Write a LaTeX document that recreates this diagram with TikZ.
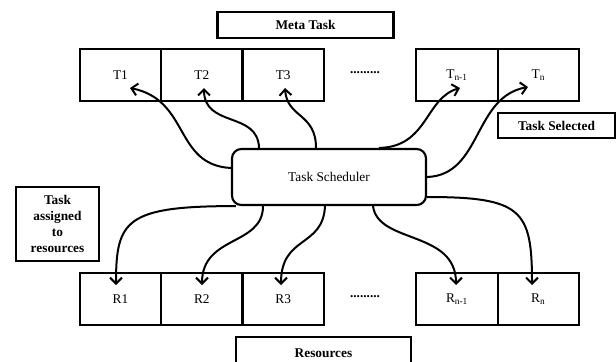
\documentclass[tikz,border=0pt]{standalone}
\usepackage{fontspec}
\setmainfont{Liberation Serif}
\usetikzlibrary{positioning,calc,arrows.meta}

\tikzset{
  cell/.style={draw,line width=1.6pt,minimum width=61pt,minimum height=39pt,inner sep=0pt,outer sep=0pt,font=\normalsize},
  tag/.style={draw,line width=1.6pt,inner sep=0pt,font=\normalsize\bfseries,align=center},
  conn/.style={line width=1.5pt,-{Straight Barb[length=4.5pt,width=9pt]}}
}

\begin{document}
\begin{tikzpicture}[x=0.75pt,y=-0.75pt]
		\useasboundingbox (0,0) rectangle (616,361);
		\node[tag,minimum width=132pt,minimum height=19.5pt] (meta) at (305.5,25) {Meta Task};
		\node[cell] (T1) at (120.5,75) {T1};
		\node[cell,right=0pt of T1] (T2) {T2};
		\node[cell,right=0pt of T2] (T3) {T3};
		\node[cell] (T4) at (457,75) {T\textsubscript{n-1}};
		\node[cell,right=0pt of T4] (T5) {T\textsubscript{n}};
		\node[font=\normalsize\bfseries] (tdots) at (365,73) {.........};
		\node[tag,minimum width=88pt,minimum height=19pt] (sel) at (556.5,125.5) {Task Selected};
		\node[draw,line width=1.6pt,rounded corners=7pt,minimum width=145.5pt,minimum height=42pt,font=\normalsize] (S) at (329,177) {Task Scheduler};
		\node[tag,minimum width=62pt,minimum height=55.5pt,text width=60pt] (asg) at (57.5,224) {Task\\assigned\\to\\resources};
		\node[cell] (R1) at (120.5,299) {R1};
		\node[cell,right=0pt of R1] (R2) {R2};
		\node[cell,right=0pt of R2] (R3) {R3};
		\node[cell] (R4) at (457,299) {R\textsubscript{n-1}};
		\node[cell,right=0pt of R4] (R5) {R\textsubscript{n}};
		\node[font=\normalsize\bfseries] (rdots) at (365,297) {.........};
		\node[tag,minimum width=131pt,minimum height=24pt] (res) at (323.5,353) {Resources};

		% arrow tips
		\coordinate (t1) at (130,88);
		\coordinate (t2) at (204,88);
		\coordinate (t3) at (285,88);
		\coordinate (t4) at (460,88);
		\coordinate (t5) at (528,87);
		\coordinate (r1) at (116,285);
		\coordinate (r2) at (202,285);
		\coordinate (r3) at (281,285);
		\coordinate (r4) at (456,285);
		\coordinate (r5) at (532,285);

		% scheduler to tasks
		\draw[conn] ($(S.west)+(0,-9)$) .. controls +(-57,-3) and +(60,12) .. (t1);
		\draw[conn] ($(S.north)+(-70,0)$) .. controls +(-1,-37) and +(0,40) .. (t2);
		\draw[conn] ($(S.north)+(-13,0)$) .. controls +(0,-35) and +(2,30) .. (t3);
		\draw[conn] ($(S.north)+(50,0)$) .. controls +(49,-1) and +(-35,10) .. (t4);
		\draw[conn] (S.east) .. controls +(55,-2) and +(-55,10) .. (t5);

		% scheduler to resources
		\draw[conn] ($(S.south west)+(5,0)$) .. controls +(-110,0) and +(0,-65) .. (r1);
		\draw[conn] ($(S.south)+(-66,0)$) .. controls +(0,40) and +(0,-50) .. (r2);
		\draw[conn] ($(S.south)+(-4,0)$) .. controls +(-2,42) and +(0,-50) .. (r3);
		\draw[conn] ($(S.south)+(44,0)$) .. controls +(5,38) and +(0,-55) .. (r4);
		\draw[conn] ($(S.east)+(0,20)$) .. controls +(95,0) and +(0,-75) .. (r5);
	\end{tikzpicture}
\end{document}
